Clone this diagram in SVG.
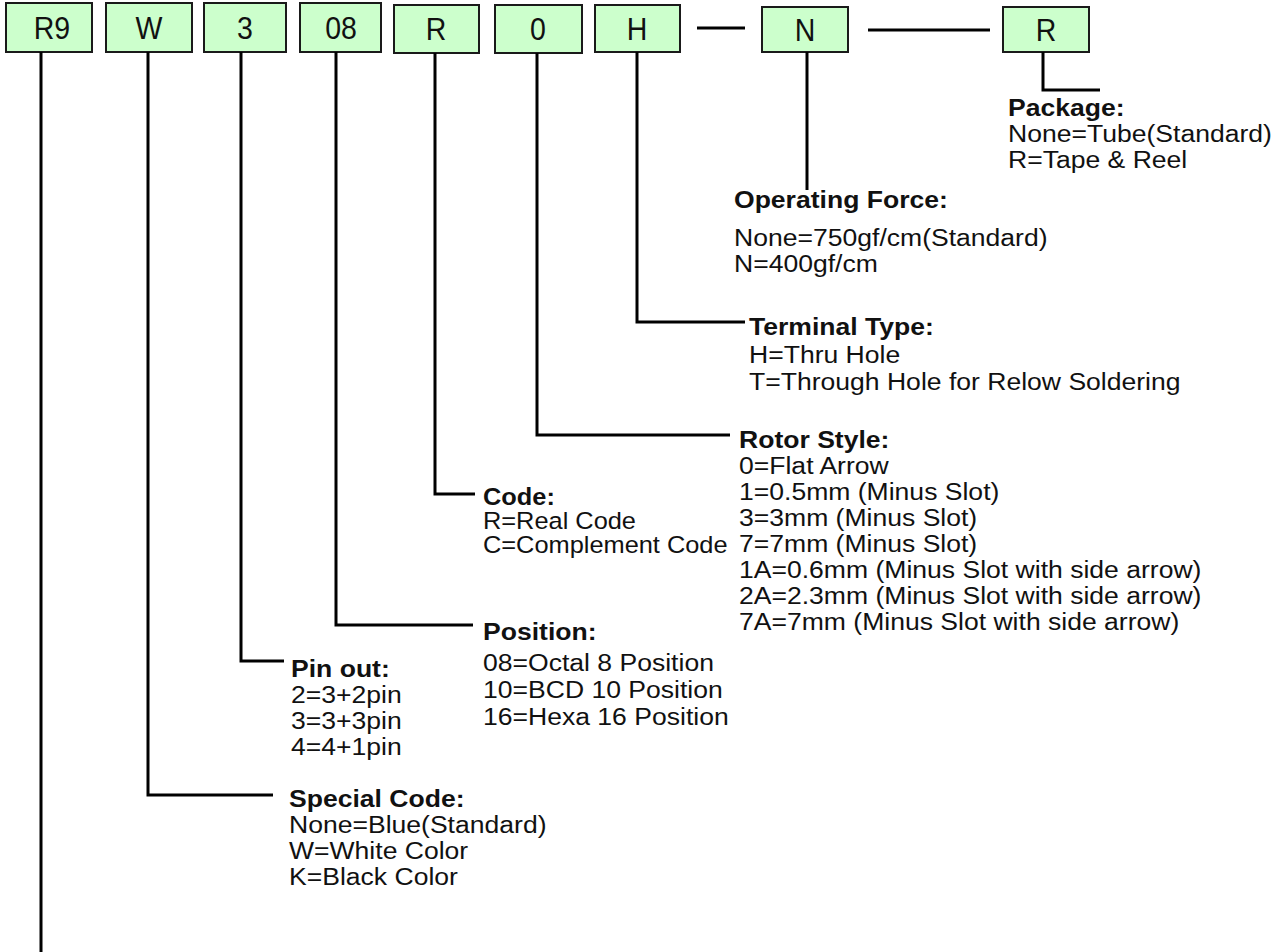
<svg xmlns="http://www.w3.org/2000/svg" width="1283" height="952" viewBox="0 0 1283 952">
<style>
.box{fill:#ccffcc;stroke:#1a1a1a;stroke-width:2}
.bt{font-family:"Liberation Sans",Arial,sans-serif;font-size:31px;fill:#111;text-anchor:middle}
.ln{fill:none;stroke:#000;stroke-width:3}
.t{font-family:"Liberation Sans",Arial,sans-serif;font-size:23.5px;fill:#111}
.h{font-weight:bold}
</style>
<rect width="1283" height="952" fill="#fff"/>
<g id="n-r9"><rect class="box" x="6" y="3" width="86" height="49"/><text class="bt" transform="translate(52,39) scale(0.92,1)">R9</text></g>
<g id="n-w"><rect class="box" x="106" y="3" width="86" height="49"/><text class="bt" transform="translate(149,39) scale(0.92,1)">W</text></g>
<g id="n-3"><rect class="box" x="204" y="3" width="82" height="49"/><text class="bt" transform="translate(245,39) scale(0.92,1)">3</text></g>
<g id="n-08"><rect class="box" x="300" y="3" width="81" height="49"/><text class="bt" transform="translate(341,39) scale(0.92,1)">08</text></g>
<g id="n-r"><rect class="box" x="394" y="5" width="85" height="48"/><text class="bt" transform="translate(436,40) scale(0.92,1)">R</text></g>
<g id="n-0"><rect class="box" x="495" y="5" width="87" height="48"/><text class="bt" transform="translate(538,40) scale(0.92,1)">0</text></g>
<g id="n-h"><rect class="box" x="595" y="5" width="85" height="47"/><text class="bt" transform="translate(637,40) scale(0.92,1)">H</text></g>
<g id="n-n"><rect class="box" x="762" y="7" width="86" height="45"/><text class="bt" transform="translate(805,41) scale(0.92,1)">N</text></g>
<g id="n-r2"><rect class="box" x="1003" y="7" width="86" height="45"/><text class="bt" transform="translate(1046,41) scale(0.92,1)">R</text></g>

<g id="connectors">
<path class="ln" d="M697,28H745M868,30H990"/>
<path class="ln" d="M41,52V952"/>
<path class="ln" d="M148,52V795H273"/>
<path class="ln" d="M241,52V661H284"/>
<path class="ln" d="M336,52V625H473"/>
<path class="ln" d="M435,53V494H475"/>
<path class="ln" d="M537,53V435H730"/>
<path class="ln" d="M637,52V322H745"/>
<path class="ln" d="M807,52V190"/>
<path class="ln" d="M1043,52V90H1100"/>
</g>

<g id="lbl-package" transform="translate(1008,0) scale(1.13,1)">
<text class="t h" x="0" y="116">Package:</text>
<text class="t" x="0" y="142">None=Tube(Standard)</text>
<text class="t" x="0" y="168">R=Tape &amp; Reel</text>
</g>
<g id="lbl-force" transform="translate(734,0) scale(1.13,1)">
<text class="t h" x="0" y="208">Operating Force:</text>
<text class="t" x="0" y="246">None=750gf/cm(Standard)</text>
<text class="t" x="0" y="272">N=400gf/cm</text>
</g>
<g id="lbl-terminal" transform="translate(749,0) scale(1.13,1)">
<text class="t h" x="0" y="335">Terminal Type:</text>
<text class="t" x="0" y="363">H=Thru Hole</text>
<text class="t" x="0" y="390">T=Through Hole for Relow Soldering</text>
</g>
<g id="lbl-rotor" transform="translate(739,0) scale(1.13,1)">
<text class="t h" x="0" y="448">Rotor Style:</text>
<text class="t" x="0" y="474">0=Flat Arrow</text>
<text class="t" x="0" y="500">1=0.5mm (Minus Slot)</text>
<text class="t" x="0" y="526">3=3mm (Minus Slot)</text>
<text class="t" x="0" y="552">7=7mm (Minus Slot)</text>
<text class="t" x="0" y="578">1A=0.6mm (Minus Slot with side arrow)</text>
<text class="t" x="0" y="604">2A=2.3mm (Minus Slot with side arrow)</text>
<text class="t" x="0" y="630">7A=7mm (Minus Slot with side arrow)</text>
</g>
<g id="lbl-code" transform="translate(483,0) scale(1.08,1)">
<text class="t h" x="0" y="505">Code:</text>
<text class="t" x="0" y="529">R=Real Code</text>
<text class="t" x="0" y="553">C=Complement Code</text>
</g>
<g id="lbl-position" transform="translate(483,0) scale(1.13,1)">
<text class="t h" x="0" y="640">Position:</text>
<text class="t" x="0" y="671">08=Octal 8 Position</text>
<text class="t" x="0" y="698">10=BCD 10 Position</text>
<text class="t" x="0" y="725">16=Hexa 16 Position</text>
</g>
<g id="lbl-pinout" transform="translate(291,0) scale(1.13,1)">
<text class="t h" x="0" y="677">Pin out:</text>
<text class="t" x="0" y="703">2=3+2pin</text>
<text class="t" x="0" y="729">3=3+3pin</text>
<text class="t" x="0" y="755">4=4+1pin</text>
</g>
<g id="lbl-special" transform="translate(289,0) scale(1.13,1)">
<text class="t h" x="0" y="807">Special Code:</text>
<text class="t" x="0" y="833">None=Blue(Standard)</text>
<text class="t" x="0" y="859">W=White Color</text>
<text class="t" x="0" y="885">K=Black Color</text>
</g>
</svg>
